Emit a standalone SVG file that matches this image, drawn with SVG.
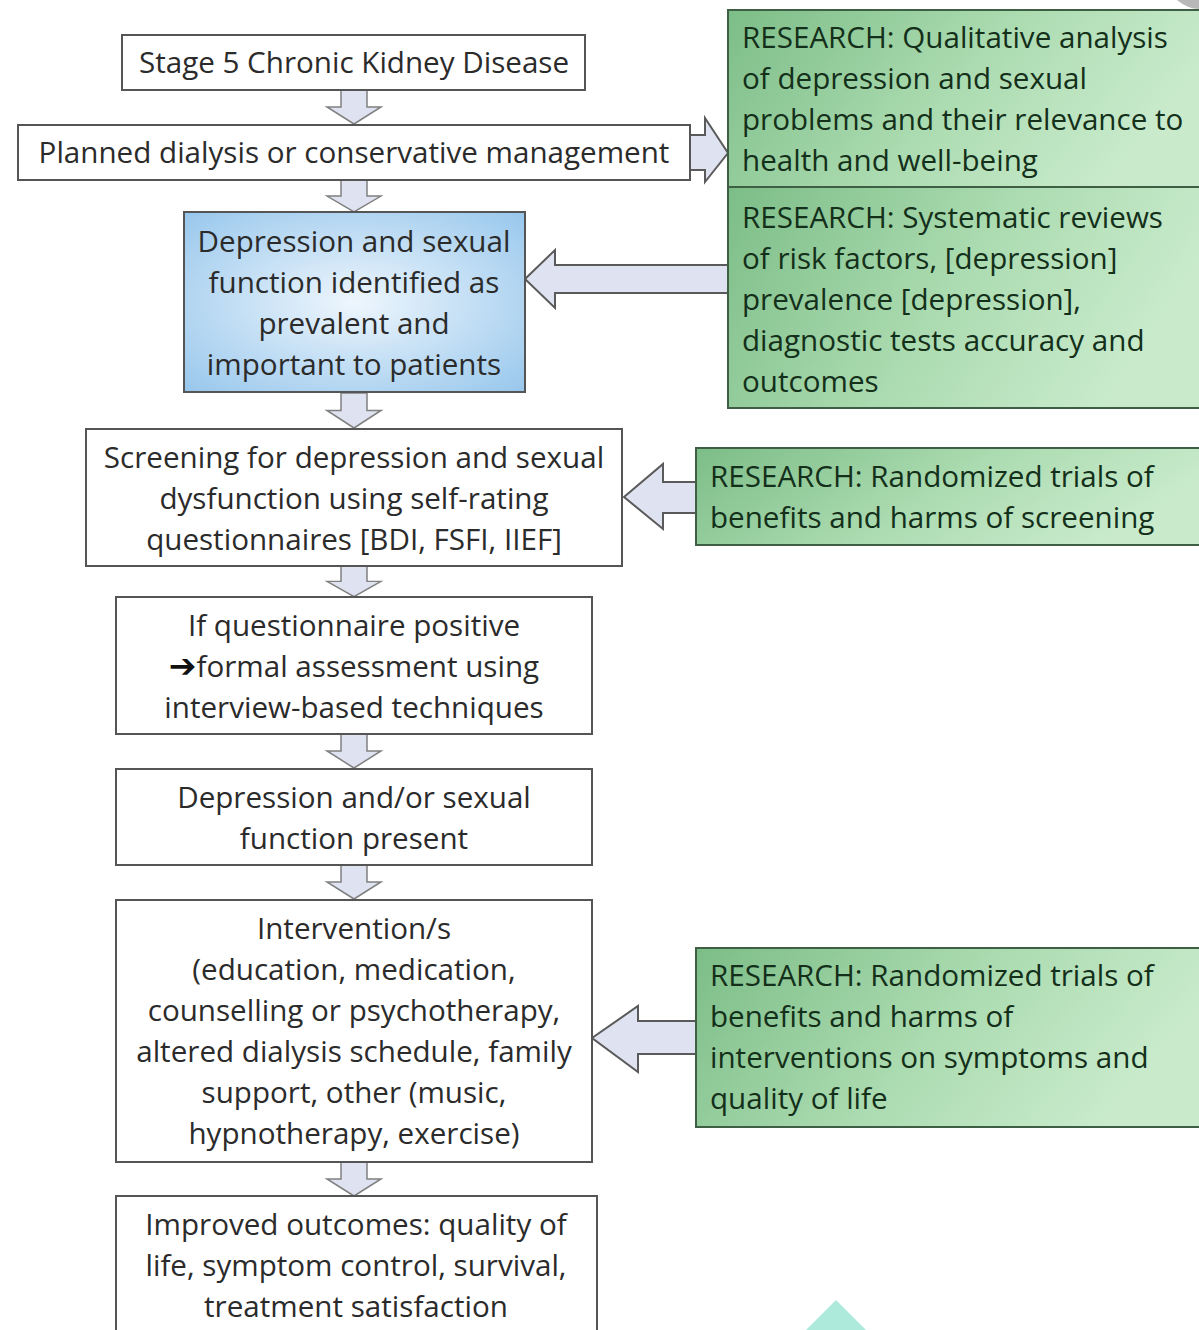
<svg xmlns="http://www.w3.org/2000/svg" width="1199" height="1330" viewBox="0 0 1199 1330">
  <defs>
    <style>
      .box { fill: #ffffff; stroke: #555555; stroke-width: 2; }
      .res { fill: url(#greenFill); stroke: #3f5f44; stroke-width: 2; }
      .t { font-family: "Open Sans", "Liberation Sans", Arial, sans-serif; font-size: 29.6px; fill: #2b2b2b; }
      .c { text-anchor: middle; }
      .rt { font-family: "Open Sans", "Liberation Sans", Arial, sans-serif; font-size: 29.6px; fill: #14301a; }
      .arr { fill: #dfe2f0; stroke: #808080; stroke-width: 1.5; stroke-linejoin: miter; }
      .sarr { fill: #dfe2f0; stroke: #5a5a5a; stroke-width: 2; }
    </style>
    <linearGradient id="greenFill" x1="0" y1="0" x2="1" y2="0.3">
      <stop offset="0" stop-color="#7cbd87"/>
      <stop offset="0.55" stop-color="#abdbb0"/>
      <stop offset="1" stop-color="#c9ebcc"/>
    </linearGradient>
    <radialGradient id="blueFill" cx="0.5" cy="0.5" r="0.7">
      <stop offset="0" stop-color="#eef6fd"/>
      <stop offset="1" stop-color="#98c7ec"/>
    </radialGradient>
    <!-- block arrow pointing down, 34 px tall -->
    <path id="down" d="M-13,0 H13 V17 H27 L0,34 L-27,17 H-13 Z"/>
  </defs>

  <rect width="1199" height="1330" fill="#ffffff"/>

  <!-- connectors -->
  <g id="connectors">
    <use href="#down" class="arr" transform="translate(354,90)"/>
    <use href="#down" class="arr" transform="translate(354,180) scale(1,0.94)"/>
    <use href="#down" class="arr" transform="translate(354,393) scale(1,1.03)"/>
    <use href="#down" class="arr" transform="translate(354,566) scale(1,0.9)"/>
    <use href="#down" class="arr" transform="translate(354,734)"/>
    <use href="#down" class="arr" transform="translate(354,865)"/>
    <use href="#down" class="arr" transform="translate(354,1162)"/>
    <!-- side arrows between research boxes and flow -->
    <path class="sarr" d="M690,135 H705 V118 L728,153 L705,182 V170 H690 Z"/>
    <path class="sarr" d="M728,265 H555 V250 L525,279 L555,308 V293 H728 Z"/>
    <path class="sarr" d="M696,482 H663 V464 L624,497 L663,529 V513 H696 Z"/>
    <path class="sarr" d="M696,1021 H638 V1006 L592,1038 L638,1072 V1054 H696 Z"/>
  </g>

  <!-- flow nodes -->
  <g id="n1">
    <rect class="box" x="122" y="35" width="463" height="55"/>
    <text class="t c" x="354" y="73">Stage 5 Chronic Kidney Disease</text>
  </g>
  <g id="n2">
    <rect class="box" x="18" y="125" width="672" height="55"/>
    <text class="t c" x="354" y="163">Planned dialysis or conservative management</text>
  </g>
  <g id="n3">
    <rect x="184" y="212" width="341" height="180" fill="url(#blueFill)" stroke="#555555" stroke-width="2"/>
    <text class="t c" x="354" y="252">Depression and sexual</text>
    <text class="t c" x="354" y="293">function identified as</text>
    <text class="t c" x="354" y="334">prevalent and</text>
    <text class="t c" x="354" y="375">important to patients</text>
  </g>
  <g id="n4">
    <rect class="box" x="86" y="429" width="536" height="137"/>
    <text class="t c" x="354" y="468">Screening for depression and sexual</text>
    <text class="t c" x="354" y="509">dysfunction using self-rating</text>
    <text class="t c" x="354" y="550">questionnaires [BDI, FSFI, IIEF]</text>
  </g>
  <g id="n5">
    <rect class="box" x="116" y="597" width="476" height="137"/>
    <text class="t c" x="354" y="636">If questionnaire positive</text>
    <text class="t c" x="354" y="677"><tspan font-family="DejaVu Sans, sans-serif" font-weight="bold" font-size="33" fill="#111111">➔</tspan>formal assessment using</text>
    <text class="t c" x="354" y="718">interview-based techniques</text>
  </g>
  <g id="n6">
    <rect class="box" x="116" y="769" width="476" height="96"/>
    <text class="t c" x="354" y="808">Depression and/or sexual</text>
    <text class="t c" x="354" y="849">function present</text>
  </g>
  <g id="n7">
    <rect class="box" x="116" y="900" width="476" height="262"/>
    <text class="t c" x="354" y="939">Intervention/s</text>
    <text class="t c" x="354" y="980">(education, medication,</text>
    <text class="t c" x="354" y="1021">counselling or psychotherapy,</text>
    <text class="t c" x="354" y="1062">altered dialysis schedule, family</text>
    <text class="t c" x="354" y="1103">support, other (music,</text>
    <text class="t c" x="354" y="1144">hypnotherapy, exercise)</text>
  </g>
  <g id="n8">
    <rect class="box" x="116" y="1196" width="481" height="150"/>
    <text class="t c" x="356" y="1235">Improved outcomes: quality of</text>
    <text class="t c" x="356" y="1276">life, symptom control, survival,</text>
    <text class="t c" x="356" y="1317">treatment satisfaction</text>
  </g>

  <!-- research nodes -->
  <g id="r1">
    <rect class="res" x="728" y="10" width="480" height="177"/>
    <text class="rt" x="742" y="48">RESEARCH: Qualitative analysis</text>
    <text class="rt" x="742" y="89">of depression and sexual</text>
    <text class="rt" x="742" y="130">problems and their relevance to</text>
    <text class="rt" x="742" y="171">health and well-being</text>
  </g>
  <g id="r2">
    <rect class="res" x="728" y="187" width="480" height="221"/>
    <text class="rt" x="742" y="228">RESEARCH: Systematic reviews</text>
    <text class="rt" x="742" y="269">of risk factors, [depression]</text>
    <text class="rt" x="742" y="310">prevalence [depression],</text>
    <text class="rt" x="742" y="351">diagnostic tests accuracy and</text>
    <text class="rt" x="742" y="392">outcomes</text>
  </g>
  <g id="r3">
    <rect class="res" x="696" y="448" width="512" height="97"/>
    <text class="rt" x="710" y="487">RESEARCH: Randomized trials of</text>
    <text class="rt" x="710" y="528">benefits and harms of screening</text>
  </g>
  <g id="r4">
    <rect class="res" x="696" y="948" width="512" height="179"/>
    <text class="rt" x="710" y="986">RESEARCH: Randomized trials of</text>
    <text class="rt" x="710" y="1027">benefits and harms of</text>
    <text class="rt" x="710" y="1068">interventions on symptoms and</text>
    <text class="rt" x="710" y="1109">quality of life</text>
  </g>

  <!-- corner marks along the edges -->
  <path d="M1177,0 H1199 V9 Q1188,9 1177,0 Z" fill="#b8b8b8"/>
  <path d="M806,1330 L836,1300 L866,1330 Z" fill="#aeeadb"/>
</svg>
